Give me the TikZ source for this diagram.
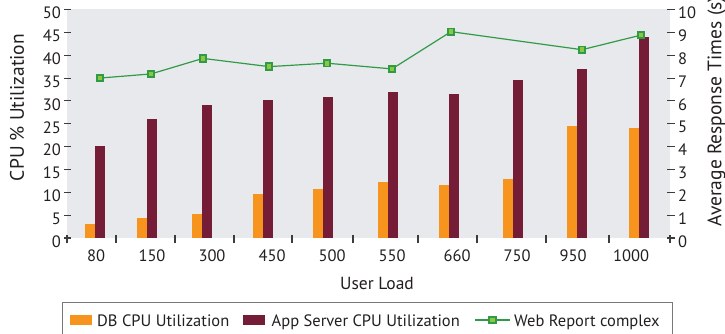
\documentclass[tikz,border=0pt]{standalone}
\usepackage{fontspec}
\setmainfont{PT Sans}

\definecolor{plotbg}{RGB}{232,233,236}
\definecolor{dborange}{RGB}{247,148,30}
\definecolor{appmaroon}{RGB}{117,29,54}
\definecolor{webgreen}{RGB}{48,155,70}
\definecolor{webfill}{RGB}{141,198,63}
\definecolor{axisgray}{RGB}{60,60,60}
\definecolor{inkgray}{RGB}{35,31,32}
\definecolor{framegray}{RGB}{120,120,120}

\tikzset{
	tickline/.style={axisgray, line width=1.1pt},
	ticklabel/.style={font=\fontsize{16.5}{18}\selectfont, text=inkgray, inner sep=0pt},
	axistitle/.style={font=\fontsize{19.5}{21}\selectfont, text=inkgray, inner sep=0pt},
	dbbar/.style={fill=dborange},
	appbar/.style={fill=appmaroon},
	webline/.style={webgreen, line width=1.2pt},
	webmark/.style={draw=webgreen, fill=webfill, line width=1.8pt, minimum size=6.5pt, inner sep=0pt},
	legendframe/.style={draw=framegray, line width=1.2pt}
}

\begin{document}
\begin{tikzpicture}[x=1pt,y=1pt]
			\useasboundingbox (0,0) rectangle (725,333);

			% plot area
			\fill[plotbg] (67,95) rectangle (670,324);

			% left axis: CPU %
			\foreach \v in {0,5,...,50} {
				\draw[tickline] (64,95+4.57*\v) -- (71,95+4.57*\v);
				\node[ticklabel, anchor=east] at (61,91.5+4.57*\v) {\v};
			}

			% right axis: response time
			\foreach \v in {0,...,10} {
				\draw[tickline] (667,95+22.85*\v) -- (675,95+22.85*\v);
				\node[ticklabel, anchor=west] at (678,91.5+22.85*\v) {\v};
			}

			% category ticks
			\foreach \x in {67,116,175,234,292,353,418,477,546,609,670}
				\draw[tickline] (\x,90) -- (\x,98);

			% bars
			\begin{scope}[shift={(0pt,95pt)}, y=4.57pt]
				\foreach \x/\db/\app in {85/3.1/20.1, 137/4.4/26.0, 192/5.3/29.1, 253/9.7/30.2, 313/10.7/30.9,
						378/12.2/31.9, 439/11.6/31.5, 503/12.9/34.6, 567/24.4/37.0, 629/24.1/43.9} {
					\fill[dbbar] (\x,0) rectangle (\x+10,\db);
					\fill[appbar] (\x+10,0) rectangle (\x+20,\app);
				}
			\end{scope}

			% response time line
			\begin{scope}[shift={(0pt,95pt)}, y=22.85pt]
				\foreach \x/\t [count=\i] in {100/7.00, 151/7.18, 203/7.86, 269/7.50, 327/7.65,
						392/7.40, 451/9.03, 582/8.24, 641/8.88}
					\coordinate (web\i) at (\x,\t);
				\draw[webline] (web1) -- (web2) -- (web3) -- (web4) -- (web5)
					-- (web6) -- (web7) -- (web8) -- (web9);
				\foreach \i in {1,...,9}
					\node[webmark] (mark\i) at (web\i) {};
			\end{scope}

			% category labels
			\foreach \x/\n in {96/80, 152/150, 212/300, 272/450, 332/500,
					392/550, 457/660, 517/750, 573/950, 631/1000}
				\node[ticklabel] (load\n) at (\x,77) {\n};

			% axis titles
			\node[axistitle, rotate=90] (cpulabel) at (17,225.5) {CPU \% Utilization};
			\node[axistitle, rotate=90] (resplabel) at (716.5,221.3) {Average Response Times (s)};
			\node[ticklabel, font=\fontsize{17.5}{19}\selectfont] (loadlabel) at (377,49.5) {User Load};

			% legend
			\draw[legendframe] (62.3,-5) rectangle (672.7,30.7);
			\fill[dbbar] (70,8) rectangle (92,18);
			\node[ticklabel, anchor=base west] (keydb) at (97,7) {DB CPU Utilization};
			\fill[appbar] (243,8) rectangle (265,18);
			\node[ticklabel, anchor=base west] (keyapp) at (271.5,7) {App Server CPU Utilization};
			\coordinate (keyl) at (475,13);
			\coordinate (keyr) at (510,13);
			\draw[webline] (keyl) -- (keyr);
			\node[webmark] (keymark) at (492.5,13) {};
			\node[ticklabel, anchor=base west] (keyweb) at (514,7) {Web Report complex};
		\end{tikzpicture}
\end{document}
